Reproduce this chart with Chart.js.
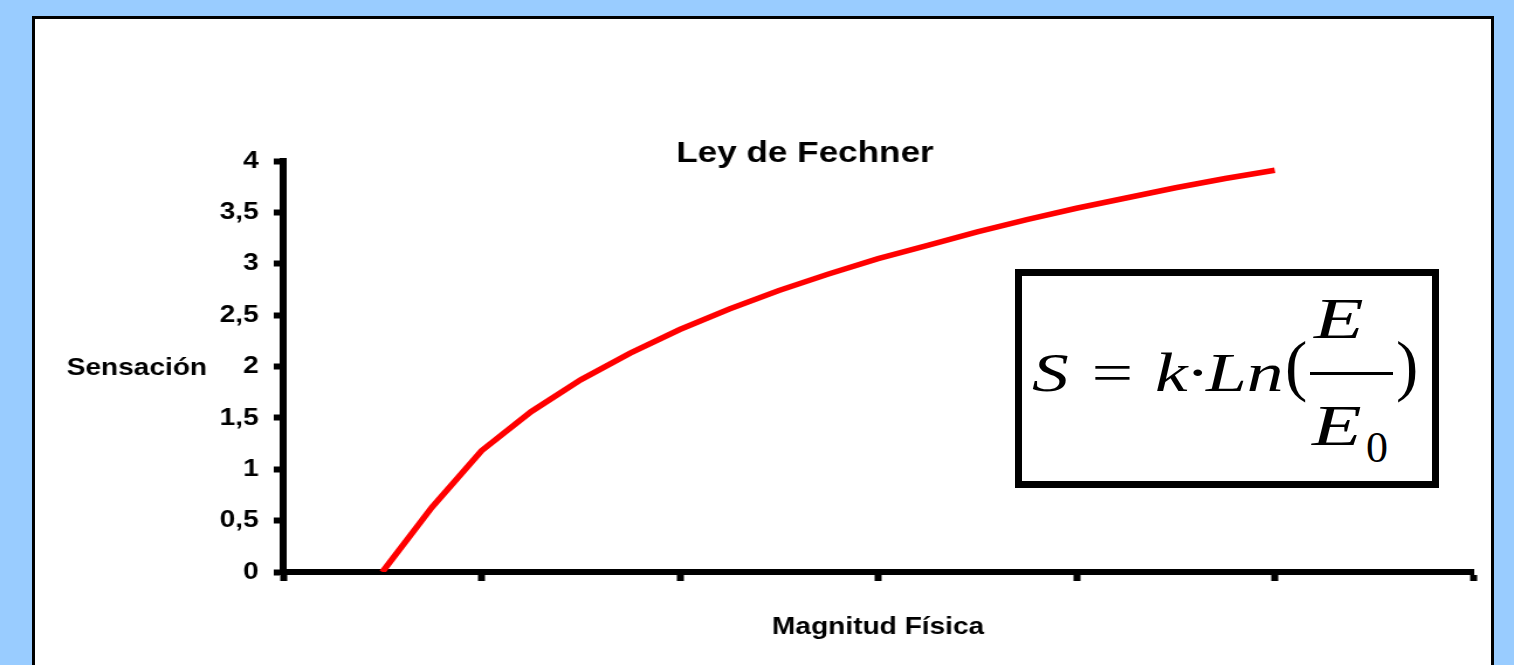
<!DOCTYPE html>
<html>
<head>
<meta charset="utf-8">
<script src="https://cdn.jsdelivr.net/npm/chart.js@4.4.1/dist/chart.umd.min.js"></script>
<style>
  html, body { margin: 0; padding: 0; }
  body { width: 1514px; height: 665px; overflow: hidden; background: #99ccff; position: relative; font-family: 'Liberation Sans', Arial, sans-serif; }
  #panel { position: absolute; left: 32px; top: 16px; width: 1462px; height: 700px; box-sizing: border-box; background: #fff; border: 3px solid #000; }
  #stretch { position: absolute; left: 0; top: 0; width: 1294px; height: 665px; transform: scaleX(1.17002); transform-origin: 0 0; }
  #formulaBox { position: absolute; left: 1015px; top: 269px; width: 424px; height: 219px; box-sizing: border-box; border: 7px solid #000; background: #fff; }
  .f { position: absolute; font-family: 'Liberation Serif', 'Times New Roman', serif; line-height: 1; white-space: pre; color: #000; transform-origin: 0 0; }
  .it { font-style: italic; }
  #bar { position: absolute; left: 1310px; top: 372px; width: 83px; height: 2.5px; background: #000; }
</style>
</head>
<body>
<div id="panel"></div>
<div id="stretch"><canvas id="fechner" width="1294" height="665"></canvas></div>
<div id="formulaBox"></div>
<span class="f it" style="left:1032px; top:346px; font-size:54px; transform:scaleX(1.36)">S = k·Ln</span>
<span class="f" style="left:1285px; top:332px; font-size:67px">(</span>
<span class="f it" style="left:1314px; top:291px; font-size:56px; transform:scaleX(1.45)">E</span>
<div id="bar"></div>
<span class="f it" style="left:1312px; top:398px; font-size:56px; transform:scaleX(1.45)">E</span>
<span class="f" style="left:1366px; top:426px; font-size:44px">0</span>
<span class="f" style="left:1396px; top:332px; font-size:67px">)</span>
<script>
// valores
const magnitud = [0.5, 0.75, 1, 1.25, 1.5, 1.75, 2, 2.25, 2.5, 2.75, 3, 3.25, 3.5, 3.75, 4, 4.25, 4.5, 4.75, 5];
const sensacion = [0, 0.63, 1.18, 1.56, 1.87, 2.13, 2.36, 2.56, 2.74, 2.90, 3.05, 3.18, 3.31, 3.43, 3.54, 3.64, 3.74, 3.83, 3.91];
const xMin = 0, xMax = 6, xStep = 1;
const yMin = 0, yMax = 4, yStep = 0.5;

const titulo = 'Ley de Fechner';
const tituloY = 'Sensación';
const tituloX = 'Magnitud Física';

const black = '#000000';
const red = '#ff0000';
const boldFont = (size) => 'bold ' + size + 'px "Liberation Sans", Arial, sans-serif';

const textosPlugin = {
    id: 'textos',
    afterDraw(chart) {
        const ctx = chart.ctx;
        const area = chart.chartArea;
        ctx.save();
        ctx.fillStyle = black;
        ctx.textAlign = 'center';
        ctx.textBaseline = 'alphabetic';
        ctx.font = boldFont(30);
        ctx.fillText(titulo, 688, 162);
        ctx.font = boldFont(24);
        ctx.fillText(tituloY, 117, 375);
        ctx.fillText(tituloX, (area.left + area.right) / 2, 634);
        ctx.restore();
    }
};

const datos = magnitud.map((x, i) => ({ x: x, y: sensacion[i] }));

new Chart('fechner', {
    type: 'line',
    data: {
        datasets: [{
            label: 'Sensación',
            data: datos,
            borderColor: red,
            backgroundColor: red,
            borderWidth: 5.5,
            pointRadius: 0,
            tension: 0,
            fill: false
        }]
    },
    options: {
        responsive: false,
        animation: false,
        devicePixelRatio: 1,
        layout: { padding: { top: 161, right: 35, bottom: 0, left: 0 } },
        plugins: {
            legend: { display: false },
            title: { display: false },
            tooltip: { enabled: false }
        },
        scales: {
            x: {
                type: 'linear',
                min: xMin,
                max: xMax,
                afterFit: (scale) => { scale.height = 93 },
                border: { display: true, color: black, width: 6 },
                grid: { display: true, drawOnChartArea: false, drawTicks: true, tickLength: 9, tickWidth: 6, tickColor: black, color: black },
                ticks: { stepSize: xStep, callback: () => '' }
            },
            y: {
                min: yMin,
                max: yMax,
                afterFit: (scale) => { scale.width = 242 },
                border: { display: true, color: black, width: 6 },
                grid: { display: true, drawOnChartArea: false, drawTicks: true, tickLength: 8, tickWidth: 6, tickColor: black, color: black },
                ticks: {
                    stepSize: yStep,
                    padding: 13,
                    color: black,
                    font: { family: '"Liberation Sans", Arial, sans-serif', size: 24, weight: 'bold' },
                    callback: (v) => String(v).replace('.', ',')
                }
            }
        }
    },
    plugins: [textosPlugin]
});
</script>
</body>
</html>
